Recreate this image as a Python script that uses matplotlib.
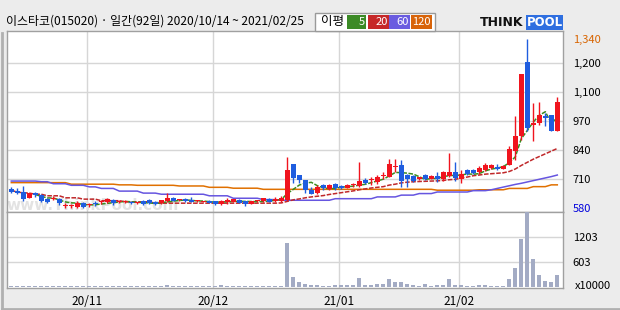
import numpy as np
import pandas as pd
import matplotlib
matplotlib.use('Agg')
import matplotlib.pyplot as plt
from matplotlib.patches import Rectangle
from matplotlib.lines import Line2D

plt.rcParams['font.family'] = ['Noto Sans CJK KR', 'DejaVu Sans']

title = "이스타코(015020) · 일간(92일) 2020/10/14 ~ 2021/02/25"

opens = [665, 657, 653, 627, 647, 640, 620, 620, 620, 592,
         591, 587, 602, 594, 605, 608, 610, 617, 609, 610,
         610, 604, 614, 617, 610, 602, 614, 627, 616, 620,
         617, 612, 609, 614, 611, 598, 608, 610, 617, 611,
         601, 612, 611, 622, 611, 614, 617, 778, 729, 707,
         662, 650, 684, 666, 689, 680, 672, 683, 680, 707,
         706, 699, 723, 722, 767, 774, 729, 725, 710, 729,
         713, 725, 710, 725, 744, 711, 752, 752, 744, 752,
         759, 766, 757, 775, 838, 903, 1235, 955, 962, 992,
         997, 928]
highs = [674, 670, 680, 650, 652, 644, 626, 635, 626, 602,
         599, 613, 608, 604, 613, 619, 626, 622, 617, 616,
         614, 610, 619, 620, 613, 619, 647, 629, 622, 624,
         632, 617, 614, 617, 613, 616, 624, 622, 620, 613,
         613, 617, 627, 625, 632, 635, 808, 780, 731, 709,
         677, 684, 688, 688, 693, 684, 688, 693, 789, 715,
         722, 729, 743, 800, 800, 796, 733, 729, 722, 733,
         729, 744, 747, 826, 789, 752, 755, 755, 769, 783,
         778, 778, 772, 858, 992, 1182, 1340, 1051, 1057, 1007,
         999, 1077]
lows = [647, 643, 614, 624, 629, 608, 604, 617, 595, 580,
        582, 582, 582, 586, 590, 599, 604, 597, 604, 605,
        598, 600, 596, 600, 596, 600, 610, 611, 612, 609,
        606, 609, 606, 603, 594, 596, 601, 608, 603, 590,
        599, 609, 609, 608, 609, 610, 613, 695, 692, 650,
        644, 644, 662, 664, 662, 668, 670, 675, 677, 688,
        684, 690, 710, 719, 744, 677, 677, 700, 706, 706,
        710, 699, 701, 722, 702, 692, 731, 734, 735, 748,
        756, 753, 754, 773, 798, 887, 925, 883, 954, 947,
        928, 926]
closes = [652, 647, 623, 647, 638, 614, 610, 622, 602, 595,
          593, 605, 587, 596, 598, 610, 620, 602, 611, 611,
          602, 606, 599, 602, 599, 617, 627, 614, 618, 611,
          608, 614, 611, 605, 599, 614, 617, 620, 605, 599,
          611, 614, 625, 610, 620, 625, 752, 717, 707, 662,
          644, 677, 670, 684, 672, 672, 684, 685, 704, 693,
          708, 722, 725, 778, 770, 704, 710, 704, 719, 710,
          725, 710, 744, 744, 714, 734, 734, 737, 759, 774,
          774, 757, 769, 847, 905, 1182, 939, 960, 997, 985,
          928, 1056]
volumes = [30] * 26 + [60] + [30] * 8 + [55] + [30] * 10 + [
    1073, 257, 137, 82, 58, 58, 34, 34, 58, 58,
    58, 58, 233, 58, 58, 82, 82, 194, 137, 137,
    82, 58, 34, 82, 34, 58, 58, 202, 58, 58,
    34, 34, 58, 58, 34, 34, 34, 202, 466, 1162,
    1850, 682, 298, 154, 137, 298]
ma20 = [661, 652, 650, 648, 643, 643, 636, 636, 636, 627,
        627, 627, 621, 621, 621, 614, 614, 614, 614, 609,
        609, 609, 609, 609, 603, 603, 603, 603, 603, 603,
        603, 603, 603, 603, 603, 603, 603, 603, 603, 603,
        603, 603, 603, 603, 603, 604, 611, 618, 622, 627,
        631, 634, 637, 642, 646, 650, 654, 658, 663, 667,
        671, 674, 677, 684, 688, 694, 697, 699, 700, 701,
        702, 703, 705, 708, 710, 716, 720, 726, 729, 733,
        735, 737, 739, 745, 756, 772, 786, 800, 812, 824,
        836, 848]
ma60 = [702, 702, 702, 702, 702, 699, 699, 690, 690, 690,
        683, 683, 683, 676, 676, 669, 669, 669, 657, 657,
        657, 657, 648, 648, 648, 643, 643, 643, 643, 643,
        643, 643, 643, 636, 636, 636, 636, 625, 625, 625,
        625, 625, 619, 619, 619, 616, 616, 616, 616, 616,
        616, 616, 616, 616, 623, 623, 623, 623, 623, 623,
        623, 631, 631, 631, 631, 639, 639, 639, 646, 646,
        646, 653, 653, 653, 653, 653, 653, 659, 659, 659,
        663, 669, 675, 681, 687, 692, 698, 704, 710, 716,
        722, 729]
ma120 = [695, 695, 695, 695, 695, 695, 695, 695, 695, 695,
         688, 688, 688, 688, 688, 688, 688, 688, 685, 685,
         685, 683, 683, 683, 683, 683, 683, 683, 680, 680,
         680, 680, 680, 674, 674, 674, 674, 670, 670, 670,
         670, 670, 665, 665, 665, 665, 665, 665, 665, 665,
         665, 665, 665, 665, 665, 665, 665, 665, 665, 665,
         665, 665, 665, 665, 665, 665, 665, 665, 665, 665,
         665, 661, 661, 661, 661, 661, 661, 661, 663, 663,
         663, 663, 663, 669, 669, 669, 669, 677, 677, 677,
         685, 685]

month_labels = ['20/11', '20/12', '21/01', '21/02']
month_first_idx = [13, 34, 55, 75]
price_ticks = [580, 710, 840, 970, 1100, 1230, 1340]
price_tick_labels = ['580', '710', '840', '970', '1,100', '1,200', '1,340']
price_grid = [710, 840, 970, 1100, 1230]
vol_ticks = [603, 1203]
vol_tick_labels = ['1203', '603']

UP = '#f0141e'
DOWN = '#1f5ddf'
W, H = 620, 310

fig = plt.figure(figsize=(6.2, 3.1), dpi=100, facecolor='#ececec')


def rect(x0, y0, x1, y1):
    return [x0 / W, 1 - y1 / H, (x1 - x0) / W, (y1 - y0) / H]


axp = fig.add_axes(rect(7, 31, 563, 212))
axv = fig.add_axes(rect(7, 212, 563, 288), sharex=axp)

x = np.arange(len(closes))
o = np.array(opens, float)
c = np.array(closes, float)
hi = np.array(highs, float)
lo = np.array(lows, float)
colors = [UP if cc >= oo else DOWN for oo, cc in zip(o, c)]

grid_x = [i - 0.45 for i in month_first_idx]
for ax in (axp, axv):
    ax.set_facecolor('white')
    for gx in grid_x:
        ax.axvline(gx, color='#d6d6d6', lw=1, zorder=0)
    for s in ax.spines.values():
        s.set_color('#a0a0a0')
        s.set_linewidth(1)
for gy in price_grid:
    axp.axhline(gy, color='#d6d6d6', lw=1, zorder=0)
for gy in vol_ticks:
    axv.axhline(gy, color='#d6d6d6', lw=1, zorder=0)

axp.text(93 / W, 1 - 206 / H, 'www.ThinkPool.com', transform=fig.transFigure,
         ha='center', va='center', fontsize=11, fontweight='bold',
         color='#e3e3e3', zorder=0.5, family=['DejaVu Sans'])

# moving averages
ma5 = pd.Series(c).rolling(5).mean()
axp.plot(x, ma120, color='#e07000', lw=1.1, zorder=2)
axp.plot(x, ma60, color='#6655e0', lw=1.1, zorder=2)
axp.plot(x, ma20, color='#c0282a', lw=1.1, zorder=2, ls=(0, (3, 1)))
axp.plot(x, ma5, color='#3a8c20', lw=1.1, zorder=2, ls=(0, (3, 1)))

# candles
axp.vlines(x, lo, hi, colors=colors, lw=1, zorder=3)
body_bottom = np.minimum(o, c)
body_h = np.maximum(np.abs(c - o), 4)
axp.bar(x, body_h, bottom=body_bottom, width=0.78, color=colors, lw=0, zorder=4)

axp.set_xlim(-0.72, 91.95)
axp.set_ylim(563.4, 1374.3)
axp.yaxis.tick_right()
axp.set_yticks(price_ticks)
axp.set_yticklabels(price_tick_labels)
axp.tick_params(axis='y', length=0, pad=7, labelsize=8)
axp.tick_params(axis='x', length=0, labelbottom=False)
for lab, val in zip(axp.get_yticklabels(), price_ticks):
    if val == 1340:
        lab.set_color('#d86400')
    elif val == 580:
        lab.set_color('#0000dd')

# volume
axv.bar(x, volumes, width=0.72, color='#a3abc4', lw=0, zorder=3)
axv.set_ylim(-14, 1810)
axv.yaxis.tick_right()
axv.set_yticks(vol_ticks[::-1])
axv.set_yticklabels(vol_tick_labels)
axv.tick_params(axis='y', length=0, pad=7, labelsize=8)
axv.set_xticks(grid_x)
axv.set_xticklabels(month_labels)
axv.tick_params(axis='x', length=0, pad=5, labelsize=8.5)

fig.text(575 / W, 1 - 286 / H, 'x10000', fontsize=8, va='center')

# header
fig.text(6 / W, 1 - 21 / H, title, fontsize=8.6, va='center')
fig.patches.append(Rectangle((315 / W, 1 - 30.5 / H), 120 / W, 17.5 / H,
                             transform=fig.transFigure, facecolor='white',
                             edgecolor='#9a9a9a', lw=1))
fig.text(321 / W, 1 - 22 / H, '이평', fontsize=9, va='center')
legend_items = [('5', '#3c8a26', 347, 366), ('20', '#c62828', 368, 389),
                ('60', '#6a5ce0', 389, 410), ('120', '#d8640a', 411, 432)]
for lab, col, x0, x1 in legend_items:
    fig.patches.append(Rectangle((x0 / W, 1 - 29 / H), (x1 - x0) / W, 14 / H,
                                 transform=fig.transFigure, facecolor=col, lw=0))
    fig.text((x1 - 1.5) / W, 1 - 22 / H, lab, fontsize=8, color='white',
             ha='right', va='center')

fig.text(480 / W, 1 - 23 / H, 'THINK', fontsize=9, fontweight='bold',
         va='center', family=['DejaVu Sans'], color='#111111')
fig.patches.append(Rectangle((526 / W, 1 - 30 / H), 37 / W, 15 / H,
                             transform=fig.transFigure, facecolor='#2f6fe0', lw=0))
fig.text(544.5 / W, 1 - 23 / H, 'POOL', fontsize=8.5, fontweight='bold',
         va='center', ha='center', family=['DejaVu Sans'], color='white')

# outer frame
fig.add_artist(Line2D([1.5 / W, 1.5 / W], [1 - 33 / H, 1 - 308.5 / H],
                      transform=fig.transFigure, color='#b0b0b0', lw=2))
fig.add_artist(Line2D([1.5 / W, 1], [1 - 308.5 / H, 1 - 308.5 / H],
                      transform=fig.transFigure, color='#b0b0b0', lw=2))

fig.savefig('out.png', dpi=100, facecolor=fig.get_facecolor())
